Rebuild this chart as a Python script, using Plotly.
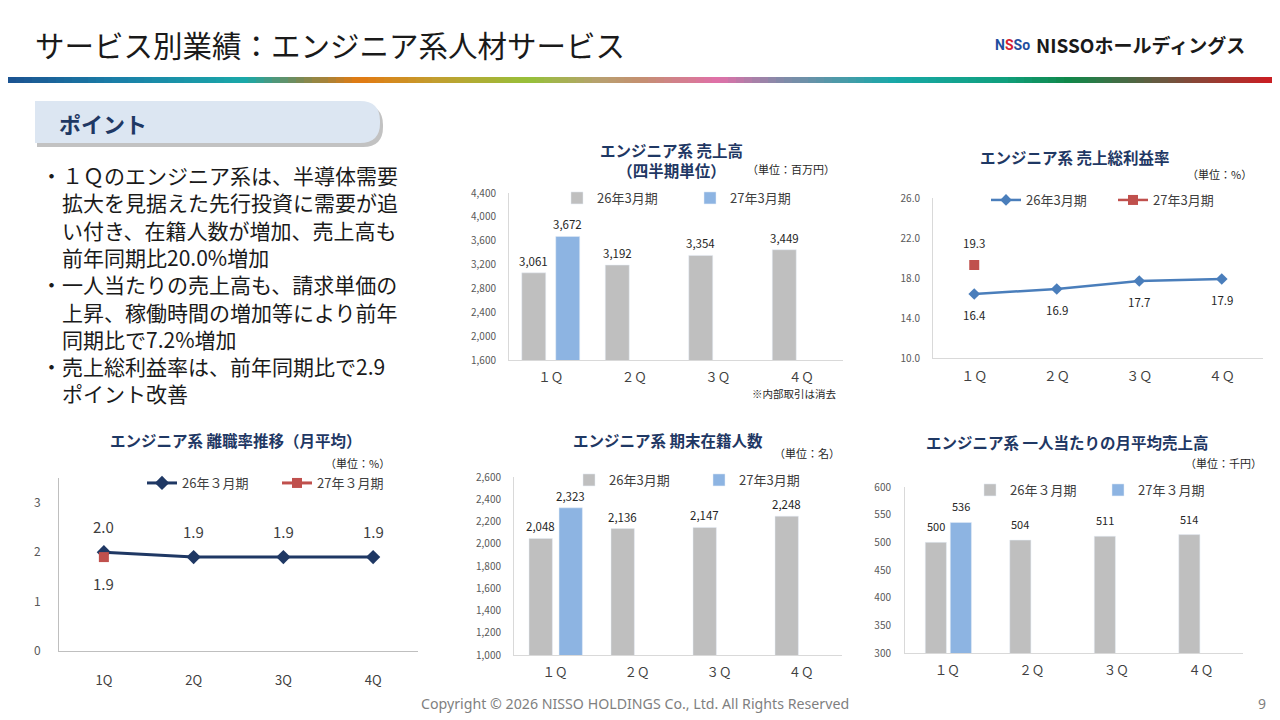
import plotly.graph_objects as go

# the page puts the figure 8px in from the top-left corner, so the figure is
# sized to fill the rest of the 1280x720 window and slide pixels are mapped onto it
OX, OY = 8, 8
FW, FH = 1280 - OX, 720 - OY


def px(x):
    return (x - OX) / FW


def py(y):
    return 1 - (y - OY) / FH


# ---- data ----
quarters = ["１Ｑ", "２Ｑ", "３Ｑ", "４Ｑ"]
quarters_half = ["1Q", "2Q", "3Q", "4Q"]

sales_fy26 = [3061, 3192, 3354, 3449]
sales_fy27 = [3672, None, None, None]

margin_fy26 = [16.4, 16.9, 17.7, 17.9]
margin_fy27 = [19.3, None, None, None]

turnover_fy26 = [2.0, 1.9, 1.9, 1.9]
turnover_fy27 = [1.9, None, None, None]

staff_fy26 = [2048, 2136, 2147, 2248]
staff_fy27 = [2323, None, None, None]

per_head_fy26 = [500, 504, 511, 514]
per_head_fy27 = [536, None, None, None]

points = [
    ["１Ｑのエンジニア系は、半導体需要", "拡大を見据えた先行投資に需要が追",
     "い付き、在籍人数が増加、売上高も", "前年同期比20.0%増加"],
    ["一人当たりの売上高も、請求単価の", "上昇、稼働時間の増加等により前年",
     "同期比で7.2%増加"],
    ["売上総利益率は、前年同期比で2.9", "ポイント改善"],
]

FONT = "Noto Sans CJK JP"
GRAY_BAR = "#BFBFBF"
BLUE_BAR = "#8DB4E2"
RED = "#C0504D"
NAVY = "#1F3864"
TXT = "#262626"

fig = go.Figure()
layout = {}
annotations = []
shapes = []


def axes(n, x0, x1, ytop, ybot, yrange, dtick, fmt, yfont, xfont, cats, xstand, ystand):
    sx = "" if n == 1 else str(n)
    layout["xaxis" + sx] = dict(
        domain=[px(x0), px(x1)], anchor="y" + sx, type="category",
        categoryorder="array", categoryarray=cats, range=[-0.5, 3.5],
        showline=True, linecolor="#D9D9D9", linewidth=1, showgrid=False,
        zeroline=False, ticks="", tickfont=dict(size=xfont, color="#404040"),
        ticklabelstandoff=xstand, automargin=False,
    )
    layout["yaxis" + sx] = dict(
        domain=[py(ybot), py(ytop)], anchor="x" + sx, range=yrange,
        tick0=yrange[0], dtick=dtick, tickformat=fmt,
        showline=True, linecolor="#D9D9D9", linewidth=1, showgrid=False,
        zeroline=False, ticks="", tickfont=dict(size=yfont, color="#595959"),
        ticklabelstandoff=ystand, automargin=False,
    )


def legend_at(name, x, y, size=13):
    layout[name] = dict(
        x=px(x), y=py(y), xanchor="left", yanchor="middle",
        orientation="h", bgcolor="rgba(0,0,0,0)",
        font=dict(size=size, color="#404040", family=FONT),
    )


def bar_pair(n, fy26, fy27, cats, off, wid, shift, leg_a, leg_b, names, lsize):
    sx = "" if n == 1 else str(n)
    fig.add_trace(go.Bar(x=cats, y=fy26, name=names[0], marker_color=GRAY_BAR,
                         offset=off[0], width=wid, xaxis="x" + sx, yaxis="y" + sx,
                         legend=leg_a))
    fig.add_trace(go.Bar(x=cats, y=fy27, name=names[1], marker_color=BLUE_BAR,
                         offset=off[1], width=wid, xaxis="x" + sx, yaxis="y" + sx,
                         legend=leg_b))
    for series, o in ((fy26, off[0]), (fy27, off[1])):
        for i, v in enumerate(series):
            if v is None:
                continue
            annotations.append(dict(
                x=i + o + wid / 2, y=v, xref="x" + sx, yref="y" + sx,
                text=f"{v:,}", showarrow=False, yshift=shift,
                font=dict(size=lsize, color=TXT),
            ))


# ---- chart 1: sales ----
axes(1, 509, 843, 193, 360, [1600, 4400], 400, ",", 10, 12.5, quarters, 6, 10)
bar_pair(1, sales_fy26, sales_fy27, quarters, (-0.347, 0.06), 0.287, 12,
         "legend", "legend2", ("26年3月期", "27年3月期"), 11.5)
legend_at("legend", 557, 198)
legend_at("legend2", 690, 198)

# ---- chart 2: gross margin ----
axes(2, 933, 1263, 198, 358, [10, 26], 4, ".1f", 10, 13, quarters, 6, 10)
fig.add_trace(go.Scatter(x=quarters, y=margin_fy26, name="26年3月期", mode="lines+markers",
                         line=dict(color="#4A7EBB", width=2.5),
                         marker=dict(symbol="diamond", size=9, color="#4A7EBB"),
                         xaxis="x2", yaxis="y2", legend="legend3"))
fig.add_trace(go.Scatter(x=quarters, y=margin_fy27, name="27年3月期", mode="lines+markers",
                         line=dict(color=RED, width=2.5),
                         marker=dict(symbol="square", size=10, color=RED),
                         xaxis="x2", yaxis="y2", legend="legend4"))
for i, v in enumerate(margin_fy26):
    annotations.append(dict(x=quarters[i], y=v, xref="x2", yref="y2", text=f"{v:.1f}",
                            showarrow=False, yshift=-21, font=dict(size=11.5, color=TXT)))
for i, v in enumerate(margin_fy27):
    if v is not None:
        annotations.append(dict(x=quarters[i], y=v, xref="x2", yref="y2", text=f"{v:.1f}",
                                showarrow=False, yshift=22, font=dict(size=11.5, color=TXT)))
legend_at("legend3", 986, 200)
legend_at("legend4", 1113, 200)

# ---- chart 4: turnover ----
axes(3, 59, 418, 478, 651, [0, 3.5], 1, "d", 12, 13, quarters_half, 17, 15)
layout["xaxis3"]["linecolor"] = "#BFBFBF"
layout["yaxis3"]["linecolor"] = "#BFBFBF"
fig.add_trace(go.Scatter(x=quarters_half, y=turnover_fy26, name="26年３月期", mode="lines+markers",
                         line=dict(color=NAVY, width=3),
                         marker=dict(symbol="diamond", size=11, color=NAVY),
                         xaxis="x3", yaxis="y3", legend="legend5"))
fig.add_trace(go.Scatter(x=quarters_half, y=turnover_fy27, name="27年３月期", mode="lines+markers",
                         line=dict(color=RED, width=3),
                         marker=dict(symbol="square", size=10, color=RED),
                         xaxis="x3", yaxis="y3", legend="legend6"))
for i, v in enumerate(turnover_fy26):
    annotations.append(dict(x=quarters_half[i], y=v, xref="x3", yref="y3", text=f"{v:.1f}",
                            showarrow=False, yshift=26, font=dict(size=15, color="#404040")))
for i, v in enumerate(turnover_fy27):
    if v is not None:
        annotations.append(dict(x=quarters_half[i], y=v, xref="x3", yref="y3", text=f"{v:.1f}",
                                showarrow=False, yshift=-26, font=dict(size=15, color="#404040")))
legend_at("legend5", 142, 483)
legend_at("legend6", 277, 483)

# ---- chart 5: headcount ----
axes(4, 514, 842, 477, 655, [1000, 2600], 200, ",", 10, 12.5, quarters, 6, 10)
bar_pair(4, staff_fy26, staff_fy27, quarters, (-0.317, 0.049), 0.285, 12,
         "legend7", "legend8", ("26年3月期", "27年3月期"), 11.5)
legend_at("legend7", 569, 480)
legend_at("legend8", 699, 480)

# ---- chart 6: sales per head ----
axes(5, 905, 1243, 487, 653, [300, 600], 50, "d", 10, 12.5, quarters, 6, 11)
bar_pair(5, per_head_fy26, per_head_fy27, quarters, (-0.26, 0.036), 0.25, 16,
         "legend9", "legend10", ("26年３月期", "27年３月期"), 11)
legend_at("legend9", 970, 490)
legend_at("legend10", 1098, 490)


# ---- chart titles and notes ----
def title(x, y, text, size=15.5):
    annotations.append(dict(x=px(x), y=py(y), xref="paper", yref="paper", text=f"<b>{text}</b>",
                            showarrow=False, xanchor="center", yanchor="middle",
                            font=dict(size=size, color=NAVY)))


def note(x, y, text, size=11, anchor="left"):
    annotations.append(dict(x=px(x), y=py(y), xref="paper", yref="paper", text=text,
                            showarrow=False, xanchor=anchor, yanchor="middle",
                            font=dict(size=size, color=TXT)))


title(671, 160, "エンジニア系 売上高<br>（四半期単位）")
note(745, 169, "（単位：百万円）")
note(750, 393, "※内部取引は消去", 10.5)
title(1075, 157, "エンジニア系 売上総利益率")
note(1185, 174, "（単位：%）")
title(236, 440, "エンジニア系 離職率推移（月平均）")
note(323, 463, "（単位：%）")
title(668, 440, "エンジニア系 期末在籍人数")
note(772, 453, "（単位：名）")
title(1067, 442, "エンジニア系 一人当たりの月平均売上高")
note(1183, 463, "（単位：千円）")

# ---- header ----
annotations.append(dict(x=px(33), y=py(44), xref="paper", yref="paper",
                        text="サービス別業績：エンジニア系人材サービス", showarrow=False,
                        xanchor="left", yanchor="middle", font=dict(size=29.5, color="#1A1A1A")))
annotations.append(dict(x=px(993), y=py(45), xref="paper", yref="paper",
                        text="<b><span style='color:#1F4E9E'>N</span>"
                             "<span style='color:#D42030'>S</span>"
                             "<span style='color:#1F4E9E'>So</span></b>",
                        showarrow=False, xanchor="left", yanchor="middle",
                        font=dict(size=14, family="Roboto")))
annotations.append(dict(x=px(1034), y=py(44), xref="paper", yref="paper",
                        text="<b>NISSOホールディングス</b>", showarrow=False,
                        xanchor="left", yanchor="middle", font=dict(size=19, color="#1A1A1A")))

# gradient band under the header
stops = [(0, "#1B4F8F"), (120, "#1A80A8"), (245, "#1AA8A8"), (300, "#7A8A55"),
         (359, "#E27A12"), (440, "#C0A030"), (530, "#96C03A"), (600, "#B8A070"),
         (640, "#C49070"), (718, "#E070A8"), (775, "#8A88A8"), (893, "#18A8A8"),
         (1000, "#10A080"), (1068, "#10884A"), (1162, "#6A5840"), (1280, "#D41820")]


def mix(c1, c2, t):
    a = [int(c1[i:i + 2], 16) for i in (1, 3, 5)]
    b = [int(c2[i:i + 2], 16) for i in (1, 3, 5)]
    return "#" + "".join(f"{round(a[k] + (b[k] - a[k]) * t):02x}" for k in range(3))


step = 8
for x in range(0, 1280, step):
    xm = x + step / 2
    for (xa, ca), (xb, cb) in zip(stops[:-1], stops[1:]):
        if xa <= xm <= xb:
            col = mix(ca, cb, (xm - xa) / (xb - xa))
            break
    shapes.append(dict(type="rect", xref="paper", yref="paper", x0=px(x), x1=px(x + step + 0.5),
                       y0=py(83), y1=py(77), fillcolor=col, line_width=0, layer="below"))


# ---- "ポイント" box ----
def box_path(x0, y0, x1, y1, r):
    pts = [f"M{px(x0)},{py(y0)}", f"L{px(x1 - r)},{py(y0)}",
           f"Q{px(x1)},{py(y0)} {px(x1)},{py(y0 + r)}",
           f"L{px(x1)},{py(y1 - r)}",
           f"Q{px(x1)},{py(y1)} {px(x1 - r)},{py(y1)}",
           f"L{px(x0)},{py(y1)}", "Z"]
    return " ".join(pts)


shapes.append(dict(type="path", xref="paper", yref="paper", path=box_path(37, 105, 383, 147, 20),
                   fillcolor="rgba(120,120,120,0.45)", line_width=0, layer="below"))
shapes.append(dict(type="path", xref="paper", yref="paper", path=box_path(35, 101, 380, 143, 20),
                   fillcolor="#DCE6F2", line_width=0, layer="below"))
annotations.append(dict(x=px(57), y=py(123), xref="paper", yref="paper", text="<b>ポイント</b>",
                        showarrow=False, xanchor="left", yanchor="middle",
                        font=dict(size=22, color=NAVY)))

# all bullet lines in one text block, continuation lines indented by one full-width space
PSIZE = 21
rows = []
for lines in points:
    rows.append("・" + lines[0])
    rows.extend("　" + s for s in lines[1:])
annotations.append(dict(x=px(39), y=py(173 - 0.7 * PSIZE), xref="paper", yref="paper",
                        text="<br>".join(rows), align="left", showarrow=False,
                        xanchor="left", yanchor="top",
                        font=dict(size=PSIZE, color="#1A1A1A")))

# ---- footer ----
annotations.append(dict(x=px(635), y=py(703), xref="paper", yref="paper",
                        text="Copyright © 2026 NISSO HOLDINGS Co., Ltd. All Rights Reserved",
                        showarrow=False, xanchor="center", yanchor="middle",
                        font=dict(size=14.2, color="#7F7F7F", family="Noto Sans")))
annotations.append(dict(x=px(1262), y=py(703), xref="paper", yref="paper", text="9",
                        showarrow=False, xanchor="center", yanchor="middle",
                        font=dict(size=14, color="#7F7F7F", family="Noto Sans")))

fig.update_layout(
    width=FW, height=FH,
    margin=dict(l=0, r=0, t=0, b=0, pad=0, autoexpand=False),
    paper_bgcolor="white", plot_bgcolor="white",
    font=dict(family=FONT, color=TXT),
    barmode="overlay", showlegend=True,
    annotations=annotations, shapes=shapes,
    **layout,
)

fig.write_html("out.html")
